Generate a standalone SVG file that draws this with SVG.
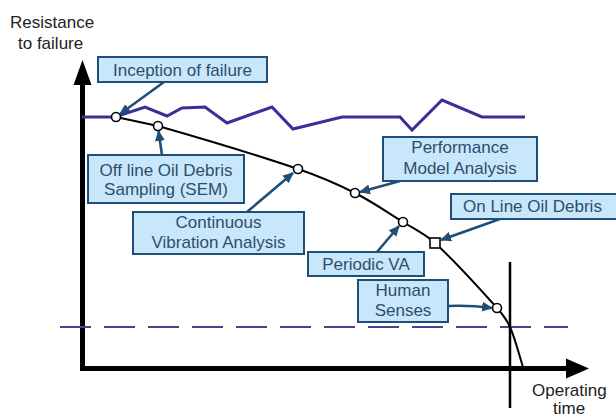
<svg xmlns="http://www.w3.org/2000/svg" width="616" height="418" viewBox="0 0 616 418">
<style>
text{font-family:"Liberation Sans",Arial,sans-serif;font-size:17px}
.lbl{fill:#222}
.bx rect{fill:#c9e7fb;stroke:#1f4e79;stroke-width:2}
.bx text{fill:#2e4d6e;text-anchor:middle}
.arr{stroke:#1f4e79;stroke-width:2.6;fill:none;marker-end:url(#ah)}
.pt{fill:#fff;stroke:#000;stroke-width:1.6}
</style>
<defs>
<marker id="ah" markerUnits="userSpaceOnUse" markerWidth="12" markerHeight="10" refX="10" refY="5" orient="auto">
<path d="M0,0 L11,5 L0,10 Z" fill="#1f4e79"/>
</marker>
</defs>
<rect width="616" height="418" fill="#fff"/>
<g id="axes">
<path d="M82.5,82 V368.5 H568" fill="none" stroke="#000" stroke-width="5"/>
<polygon points="73.5,85 82.5,60 91.5,85" fill="#000"/>
<polygon points="566,358.5 589,368.5 566,378.5" fill="#000"/>
<line x1="510" y1="262" x2="510" y2="408" stroke="#000" stroke-width="2.5"/>
<line x1="60" y1="327" x2="568" y2="327" stroke="#4b3f94" stroke-width="2.2" stroke-dasharray="31 13"/>
</g>
<g id="labels">
<text class="lbl" x="10" y="28">Resistance</text>
<text class="lbl" x="18" y="49">to failure</text>
<text class="lbl" x="532" y="396">Operating</text>
<text class="lbl" x="553" y="414">time</text>
</g>
<g id="actual">
<polyline points="82,117 115,117 145,107 167,116 182,108 205,107 227,123 272,107 293,129 342,117 400,117 412,130 442,100 482,117 525,117" fill="none" stroke="#3a2f98" stroke-width="3" stroke-linejoin="miter"/>
</g>
<g id="curve">
<path d="M116,117 L158,126 C204.9,139.4 251.8,153.3 298,169 C317.5,175.6 336.6,183.7 355,193 C371.7,201.4 387.1,212.1 403,222 C413.9,228.8 425.6,234.4 435,243 C457.1,263.2 477.1,285.7 497,308 C502.1,313.7 506.9,320 510,327 C515.6,339.8 518.7,353.7 523,367" fill="none" stroke="#000" stroke-width="2"/>
<circle class="pt" cx="116" cy="117" r="4.5"/>
<circle class="pt" cx="158" cy="126" r="4.5"/>
<circle class="pt" cx="298" cy="169" r="4.5"/>
<circle class="pt" cx="355" cy="193" r="4.5"/>
<circle class="pt" cx="403" cy="222" r="4.5"/>
<rect class="pt" x="430" y="238" width="10" height="10"/>
<circle class="pt" cx="497" cy="308" r="4.5"/>
</g>
<g id="connectors">
<line class="arr" x1="164" y1="82" x2="120" y2="114"/>
<line class="arr" x1="162" y1="155" x2="158.5" y2="131"/>
<line class="arr" x1="247" y1="212" x2="293" y2="173"/>
<line class="arr" x1="400" y1="181" x2="360" y2="192"/>
<line class="arr" x1="500" y1="219" x2="441" y2="240"/>
<line class="arr" x1="377" y1="252" x2="399" y2="226"/>
<path class="arr" d="M448,306 Q470,305 492,308"/>
</g>
<g id="n-inception" class="bx">
<rect x="98" y="57" width="169" height="25"/>
<text x="182.5" y="76">Inception of failure</text>
</g>
<g id="n-offline" class="bx">
<rect x="88" y="155" width="156" height="48"/>
<text x="166" y="176">Off line Oil Debris</text>
<text x="166" y="195">Sampling (SEM)</text>
</g>
<g id="n-continuous" class="bx">
<rect x="133" y="212" width="171" height="42"/>
<text x="218.5" y="228">Continuous</text>
<text x="218.5" y="248">Vibration Analysis</text>
</g>
<g id="n-performance" class="bx">
<rect x="383" y="137" width="154" height="44"/>
<text x="460" y="153">Performance</text>
<text x="460" y="174">Model Analysis</text>
</g>
<g id="n-online" class="bx">
<rect x="451" y="194" width="170" height="25"/>
<text x="463" y="212" style="text-anchor:start">On Line Oil Debris</text>
</g>
<g id="n-periodic" class="bx">
<rect x="308" y="252" width="116" height="24"/>
<text x="366" y="270">Periodic VA</text>
</g>
<g id="n-human" class="bx">
<rect x="358" y="280" width="90" height="42"/>
<text x="403" y="296">Human</text>
<text x="403" y="316">Senses</text>
</g>
</svg>
